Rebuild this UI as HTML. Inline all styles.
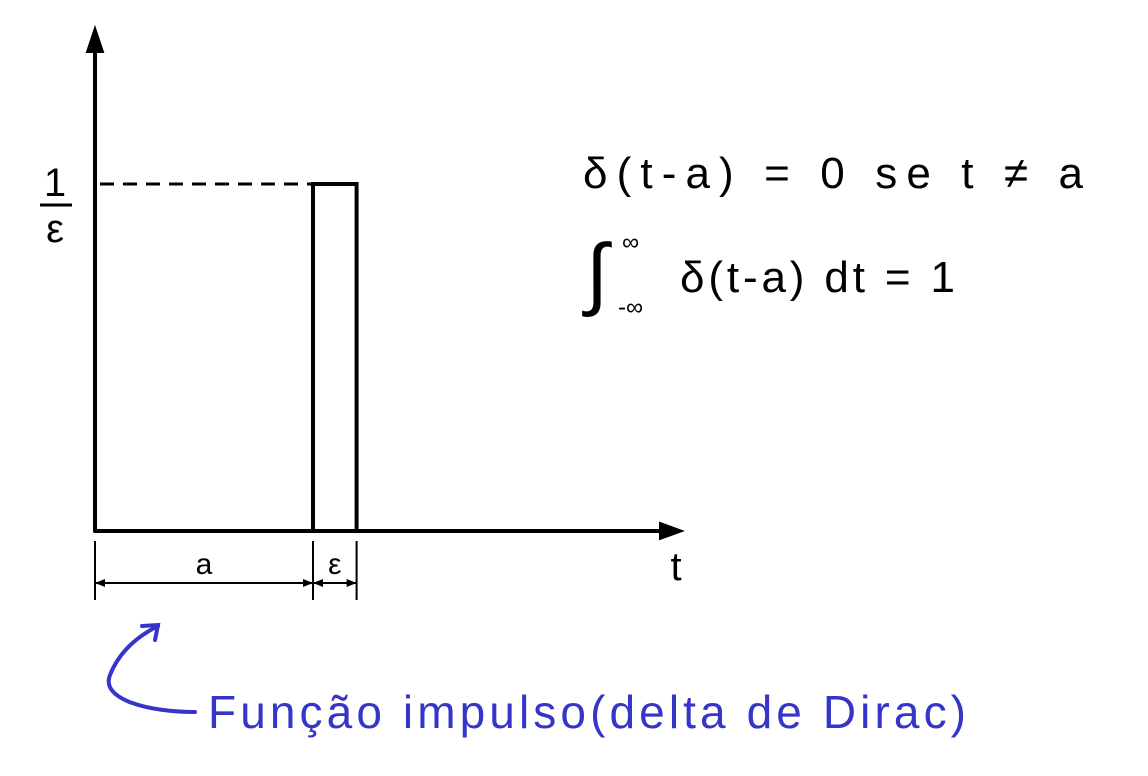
<!DOCTYPE html>
<html><head><meta charset="utf-8"><style>
html,body{margin:0;padding:0;background:#fff;}
svg{display:block;}
text{font-family:"Liberation Sans",sans-serif;}
</style></head><body>
<svg id="chart" width="1148" height="776" viewBox="0 0 1148 776" xmlns="http://www.w3.org/2000/svg">
<g id="axes" stroke="#000" stroke-width="4" fill="none" stroke-linecap="round">
 <line x1="95" y1="531" x2="95" y2="45"/>
 <polygon points="87,52 95,28 103,52" fill="#000" stroke-width="2"/>
 <line x1="95" y1="531" x2="665" y2="531"/>
 <polygon points="660,523 682,531 660,539" fill="#000" stroke-width="2"/>
</g>
<g id="marks"></g>
<text x="55" y="196" font-size="40" text-anchor="middle">1</text>
<line x1="40" y1="205" x2="72" y2="205" stroke="#000" stroke-width="3"/>
<text x="55" y="242" font-size="40" text-anchor="middle">ε</text>
<text x="676" y="580" font-size="40" text-anchor="middle">t</text>
<text x="583" y="188" font-size="44" textLength="500" lengthAdjust="spacing">δ(t-a) = 0   se  t ≠ a</text>
<text x="586" y="300" font-size="80" font-family="DejaVu Serif">∫</text>
<text x="622" y="250" font-size="24">∞</text>
<text x="618" y="315" font-size="24">-∞</text>
<text x="680" y="292" font-size="44" textLength="275" lengthAdjust="spacing">δ(t-a) dt = 1</text>
<g stroke="#3535c8" stroke-width="4" fill="none" stroke-linecap="round">
 <path d="M195,712 C150,712 100,700 110,675 C120,650 140,635 158,626"/>
 <path d="M142,626 L158,625 L155,640"/>
</g>
<text x="208" y="728" font-size="46" fill="#3535c8" textLength="758" lengthAdjust="spacing">Função impulso(delta de Dirac)</text>
<script>
const tVals=[0,5,6];        // origin, a, a+ε (data units)
const heights=[1];          // 1/ε
const dimLabels=['a','ε'];
const x=v=>95+v*(313-95)/5;
const y=v=>531-v*(531-184);
const g=document.getElementById('marks');
const ns='http://www.w3.org/2000/svg';
function mk(tag,attrs,name){const e=document.createElementNS(ns,tag);for(const k in attrs)e.setAttribute(k,attrs[k]);


g.appendChild(e);return e;}
const h=heights[0];
mk('polyline',{points:`${x(tVals[1])},${y(0)} ${x(tVals[1])},${y(h)} ${x(tVals[2])},${y(h)} ${x(tVals[2])},${y(0)}`,fill:'none',stroke:'#000','stroke-width':4},'impulse-rect');
mk('line',{x1:x(tVals[0])+5,y1:y(h),x2:x(tVals[1]),y2:y(h),stroke:'#000','stroke-width':3,'stroke-dasharray':'14,9'},'dashed-height-line');
tVals.forEach(v=>mk('line',{x1:x(v),y1:541,x2:x(v),y2:600,stroke:'#000','stroke-width':2},'dimension-tick'));
for(let i=0;i<2;i++){
 const a=x(tVals[i]),b=x(tVals[i+1]);
 mk('line',{x1:a,y1:583,x2:b,y2:583,stroke:'#000','stroke-width':2},'dimension-line');
 mk('polygon',{points:`${a},583 ${a+10},579 ${a+10},587`,fill:'#000'},'dimension-arrow');
 mk('polygon',{points:`${b},583 ${b-10},579 ${b-10},587`,fill:'#000'},'dimension-arrow');
 const t=mk('text',{x:(a+b)/2,y:574,'font-size':30,'text-anchor':'middle'},'dimension-label');
 t.textContent=dimLabels[i];
}
</script>
</svg>
</body></html>
